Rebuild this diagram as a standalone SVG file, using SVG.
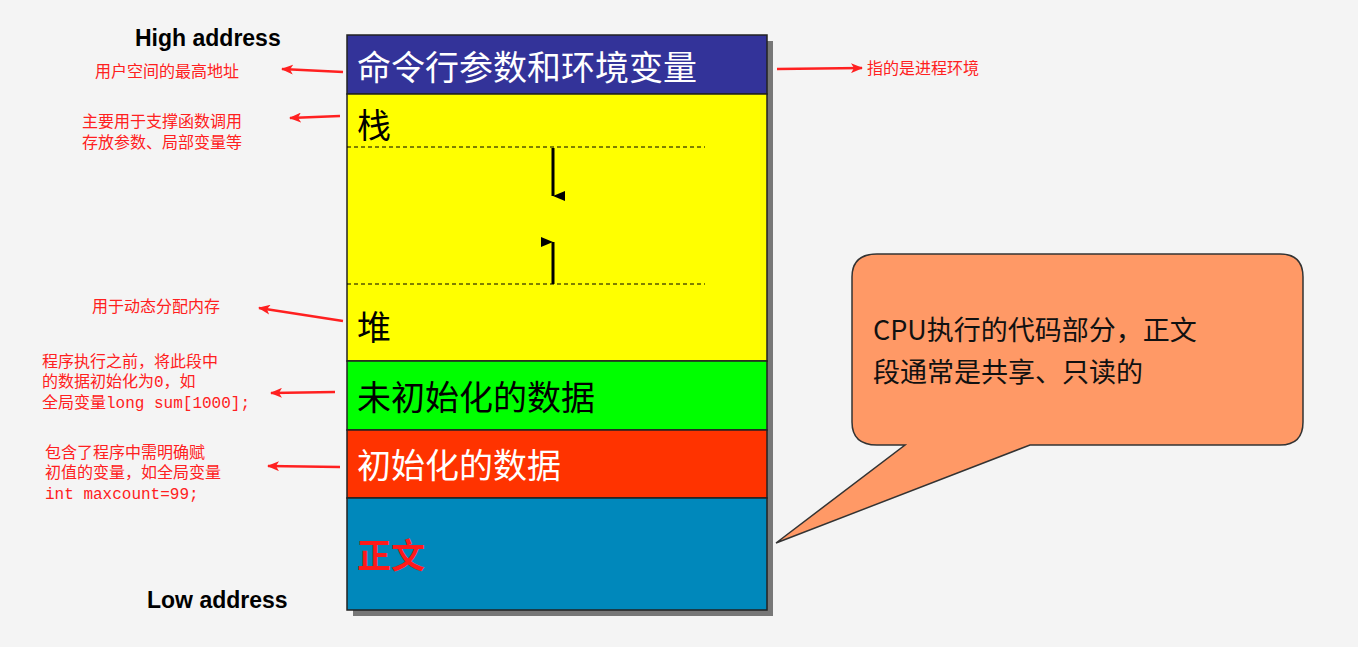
<svg xmlns="http://www.w3.org/2000/svg" width="1358" height="647" viewBox="0 0 1358 647">
<style>
.seg{stroke:#222;stroke-width:1.5}
.big{font-family:"Noto Sans CJK SC",sans-serif;font-size:34px}
.note{font-family:"Liberation Mono","Noto Sans CJK SC",monospace;font-size:16px;fill:#ff2020}
.addr{font-family:"Liberation Sans",sans-serif;font-weight:bold;font-size:23px;fill:#000}
.ar{stroke:#ff2020;stroke-width:2.5;fill:none;marker-end:url(#ra)}
</style>
<defs>
<marker id="ra" viewBox="0 0 12 10" refX="11" refY="5" markerWidth="12" markerHeight="10" markerUnits="userSpaceOnUse" orient="auto"><path d="M0,0 L12,5 L0,10 L3,5 Z" fill="#ff2020"/></marker>
<marker id="ba" viewBox="0 0 10 12" refX="5" refY="12" markerWidth="10" markerHeight="12" markerUnits="userSpaceOnUse" orient="auto-start-reverse"><path d="M0,0 L10,0 L5,12 Z" fill="#000"/></marker>
</defs>
<rect width="1358" height="647" fill="#f4f4f4"/>
<rect x="353" y="41" width="420" height="575" fill="#777"/>
<g id="cmd"><rect class="seg" x="347" y="35" width="420" height="59" fill="#333399"/><text class="big" x="357" y="80" fill="#fff">命令行参数和环境变量</text></g>
<g id="stackheap"><rect class="seg" x="347" y="94" width="420" height="267" fill="#ffff00"/>
<text class="big" x="357" y="138">栈</text><text class="big" x="357" y="340">堆</text>
<line x1="347" y1="147" x2="705" y2="147" stroke="#000" stroke-dasharray="4,3"/>
<line x1="347" y1="284" x2="705" y2="284" stroke="#000" stroke-dasharray="4,3"/></g>
<g id="bss"><rect class="seg" x="347" y="361" width="420" height="69" fill="#00ff00"/><text class="big" x="357" y="410">未初始化的数据</text></g>
<g id="data"><rect class="seg" x="347" y="430" width="420" height="68" fill="#ff3300"/><text class="big" x="357" y="478" fill="#fff">初始化的数据</text></g>
<g id="text"><rect class="seg" x="347" y="498" width="420" height="112" fill="#0088bb"/><text class="big" x="357" y="568" fill="#ff1a1a" font-weight="bold">正文</text></g>
<text class="addr" x="135" y="46">High address</text>
<text class="addr" x="147" y="608">Low address</text>
<g id="callout"><path d="M877,254 H1280 Q1303,254 1303,277 V422 Q1303,445 1280,445 H1030 L776,543 L905,445 H877 Q852,445 852,422 V277 Q852,254 877,254 Z" fill="#ff9966" stroke="#333" stroke-width="1.5"/>
<text font-family="Noto Sans CJK SC,sans-serif" font-size="27" fill="#111"><tspan x="873" y="340">CPU执行的代码部分，正文</tspan><tspan x="873" y="382">段通常是共享、只读的</tspan></text></g>
<g id="notes">
<text class="note" x="95" y="77">用户空间的最高地址</text>
<text class="note" x="867" y="74">指的是进程环境</text>
<text class="note" x="82" y="127">主要用于支撑函数调用</text><text class="note" x="82" y="148">存放参数、局部变量等</text>
<text class="note" x="92" y="312">用于动态分配内存</text>
<text class="note" x="42" y="367">程序执行之前，将此段中</text><text class="note" x="42" y="387">的数据初始化为0，如</text><text class="note" x="42" y="408">全局变量long sum[1000];</text>
<text class="note" x="45" y="458">包含了程序中需明确赋</text><text class="note" x="45" y="478">初值的变量，如全局变量</text><text class="note" x="45" y="499">int maxcount=99;</text>
</g>
<g id="connectors">
<line class="ar" x1="343" y1="72" x2="282" y2="69"/>
<line class="ar" x1="777" y1="69" x2="862" y2="68"/>
<line class="ar" x1="340" y1="116" x2="290" y2="118"/>
<line class="ar" x1="343" y1="321" x2="259" y2="308"/>
<line class="ar" x1="335" y1="392" x2="271" y2="393"/>
<line class="ar" x1="340" y1="467" x2="268" y2="466"/>
<line x1="553" y1="148" x2="553" y2="196" stroke="#000" stroke-width="3" marker-end="url(#ba)"/>
<line x1="553" y1="284" x2="553" y2="242" stroke="#000" stroke-width="3" marker-end="url(#ba)"/>
</g>
</svg>
